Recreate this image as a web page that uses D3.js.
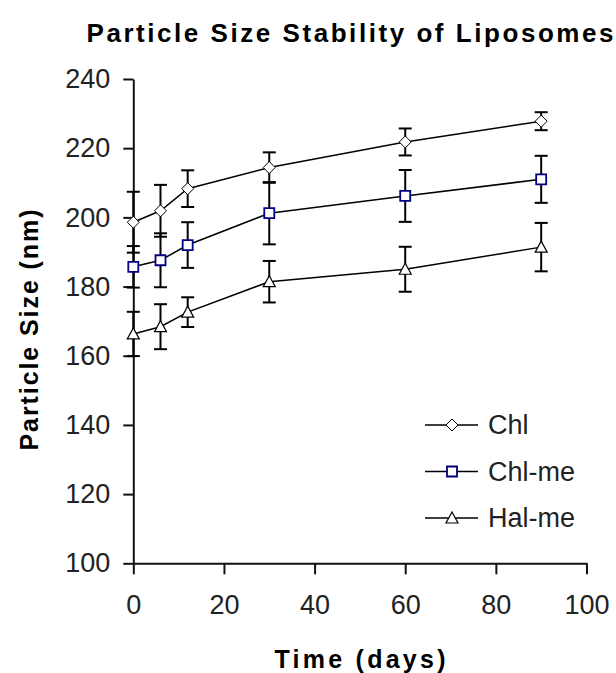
<!DOCTYPE html>
<html>
<head>
<meta charset="utf-8">
<script src="https://cdn.jsdelivr.net/npm/d3@7"></script>
<style>
  body { margin: 0; background: #fff; }
  svg { display: block; font-family: "Liberation Sans", Arial, sans-serif; }
</style>
</head>
<body>
<div id="chart"></div>
<script>
// Data
const days = [0, 6, 12, 30, 60, 90];
const seriesNames = ["Chl", "Chl-me", "Hal-me"];
const chl = [198.6, 201.9, 208.3, 214.4, 221.8, 227.8];
const chlErr = [8.8, 7.5, 5.3, 4.4, 3.9, 2.6];
const chlMe = [185.7, 187.6, 192.0, 201.2, 206.2, 211.0];
const chlMeErr = [6.0, 7.8, 6.6, 9.0, 7.5, 6.8];
const halMe = [166.3, 168.4, 172.6, 181.4, 185.0, 191.4];
const halMeErr = [6.4, 6.5, 4.3, 6.0, 6.5, 7.0];
const xTicks = [0, 20, 40, 60, 80, 100];
const yTicks = [100, 120, 140, 160, 180, 200, 220, 240];

const W = 616, H = 673;
const svg = d3.select("#chart").append("svg")
    .attr("width", W).attr("height", H);

const x = d3.scaleLinear().domain([0, 100]).range([133.3, 586.5]);
const y = d3.scaleLinear().domain([100, 240]).range([563.3, 79]);

// marker shapes
const markers = {
    diamond: "M0,-6L6,0L0,6L-6,0Z",
    square: "M-5,-5H5V5H-5Z",
    triangle: "M0,-6L6,5L-6,5Z"
};

const series = [
    { name: seriesNames[0], values: chl, err: chlErr, shape: "diamond", stroke: "#000", sw: 1 },
    { name: seriesNames[1], values: chlMe, err: chlMeErr, shape: "square", stroke: "#000080", sw: 1.8 },
    { name: seriesNames[2], values: halMe, err: halMeErr, shape: "triangle", stroke: "#000", sw: 1.2 }
];

// axes
const yAxis = svg.append("g")
    .attr("transform", `translate(${x(0)},0)`)
    .call(d3.axisLeft(y).tickValues(yTicks).tickSize(10).tickPadding(13).tickSizeOuter(0));
const xAxis = svg.append("g")
    .attr("transform", `translate(0,${y(100)})`)
    .call(d3.axisBottom(x).tickValues(xTicks).tickSize(11).tickPadding(21).tickSizeOuter(0));

[yAxis, xAxis].forEach(g => {
    g.select(".domain").attr("stroke", "#111").attr("stroke-width", 2);
    g.selectAll(".tick line").attr("stroke", "#111").attr("stroke-width", 2);
    g.selectAll(".tick text")
        .attr("font-family", "Liberation Sans, Arial, sans-serif")
        .attr("font-size", 27).attr("fill", "#222");
});

// error bars
series.forEach(s => {
    const g = svg.append("g");
    s.values.forEach((v, i) => {
        const cx = x(days[i]);
        const y1 = y(v + s.err[i]), y2 = y(v - s.err[i]);
        g.append("line").attr("x1", cx).attr("x2", cx).attr("y1", y1).attr("y2", y2)
            .attr("stroke", "#000").attr("stroke-width", 2);
        [y1, y2].forEach(yy => g.append("line")
            .attr("x1", cx - 6.5).attr("x2", cx + 6.5).attr("y1", yy).attr("y2", yy)
            .attr("stroke", "#000").attr("stroke-width", 2));
    });
});

// lines
const line = d3.line().x((d, i) => x(days[i])).y(d => y(d));
series.forEach(s => {
    svg.append("path").datum(s.values)
        .attr("d", line).attr("fill", "none")
        .attr("stroke", "#000").attr("stroke-width", 1.5);
});

// markers
series.forEach(s => {
    svg.append("g").selectAll("path").data(s.values).join("path")
        .attr("transform", (d, i) => `translate(${x(days[i])},${y(d)})`)
        .attr("d", markers[s.shape])
        .attr("fill", "#fff").attr("stroke", s.stroke).attr("stroke-width", s.sw);
});

// legend
const legend = svg.append("g");
series.forEach((s, i) => {
    const ly = 425 + i * 46.5;
    legend.append("line").attr("x1", 425).attr("x2", 478).attr("y1", ly).attr("y2", ly)
        .attr("stroke", "#000").attr("stroke-width", 1.5);
    legend.append("path").attr("transform", `translate(452,${ly})`)
        .attr("d", markers[s.shape])
        .attr("fill", "#fff").attr("stroke", s.stroke).attr("stroke-width", s.sw);
    legend.append("text").attr("x", 488).attr("y", ly).attr("dy", "0.35em")
        .attr("font-size", 27).attr("fill", "#222").text(s.name);
});

// titles
svg.append("text").attr("x", 350).attr("y", 42).attr("text-anchor", "middle")
    .attr("font-size", 26).attr("font-weight", "bold")
    .attr("textLength", 527).attr("lengthAdjust", "spacing")
    .text("Particle Size Stability of Liposomes");
svg.append("text").attr("x", 360).attr("y", 668).attr("text-anchor", "middle")
    .attr("font-size", 25).attr("font-weight", "bold")
    .attr("textLength", 171).attr("lengthAdjust", "spacing")
    .text("Time (days)");
svg.append("text").attr("transform", "translate(38,330) rotate(-90)")
    .attr("text-anchor", "middle")
    .attr("font-size", 25).attr("font-weight", "bold")
    .attr("textLength", 241).attr("lengthAdjust", "spacing")
    .text("Particle Size (nm)");
</script>
</body>
</html>
